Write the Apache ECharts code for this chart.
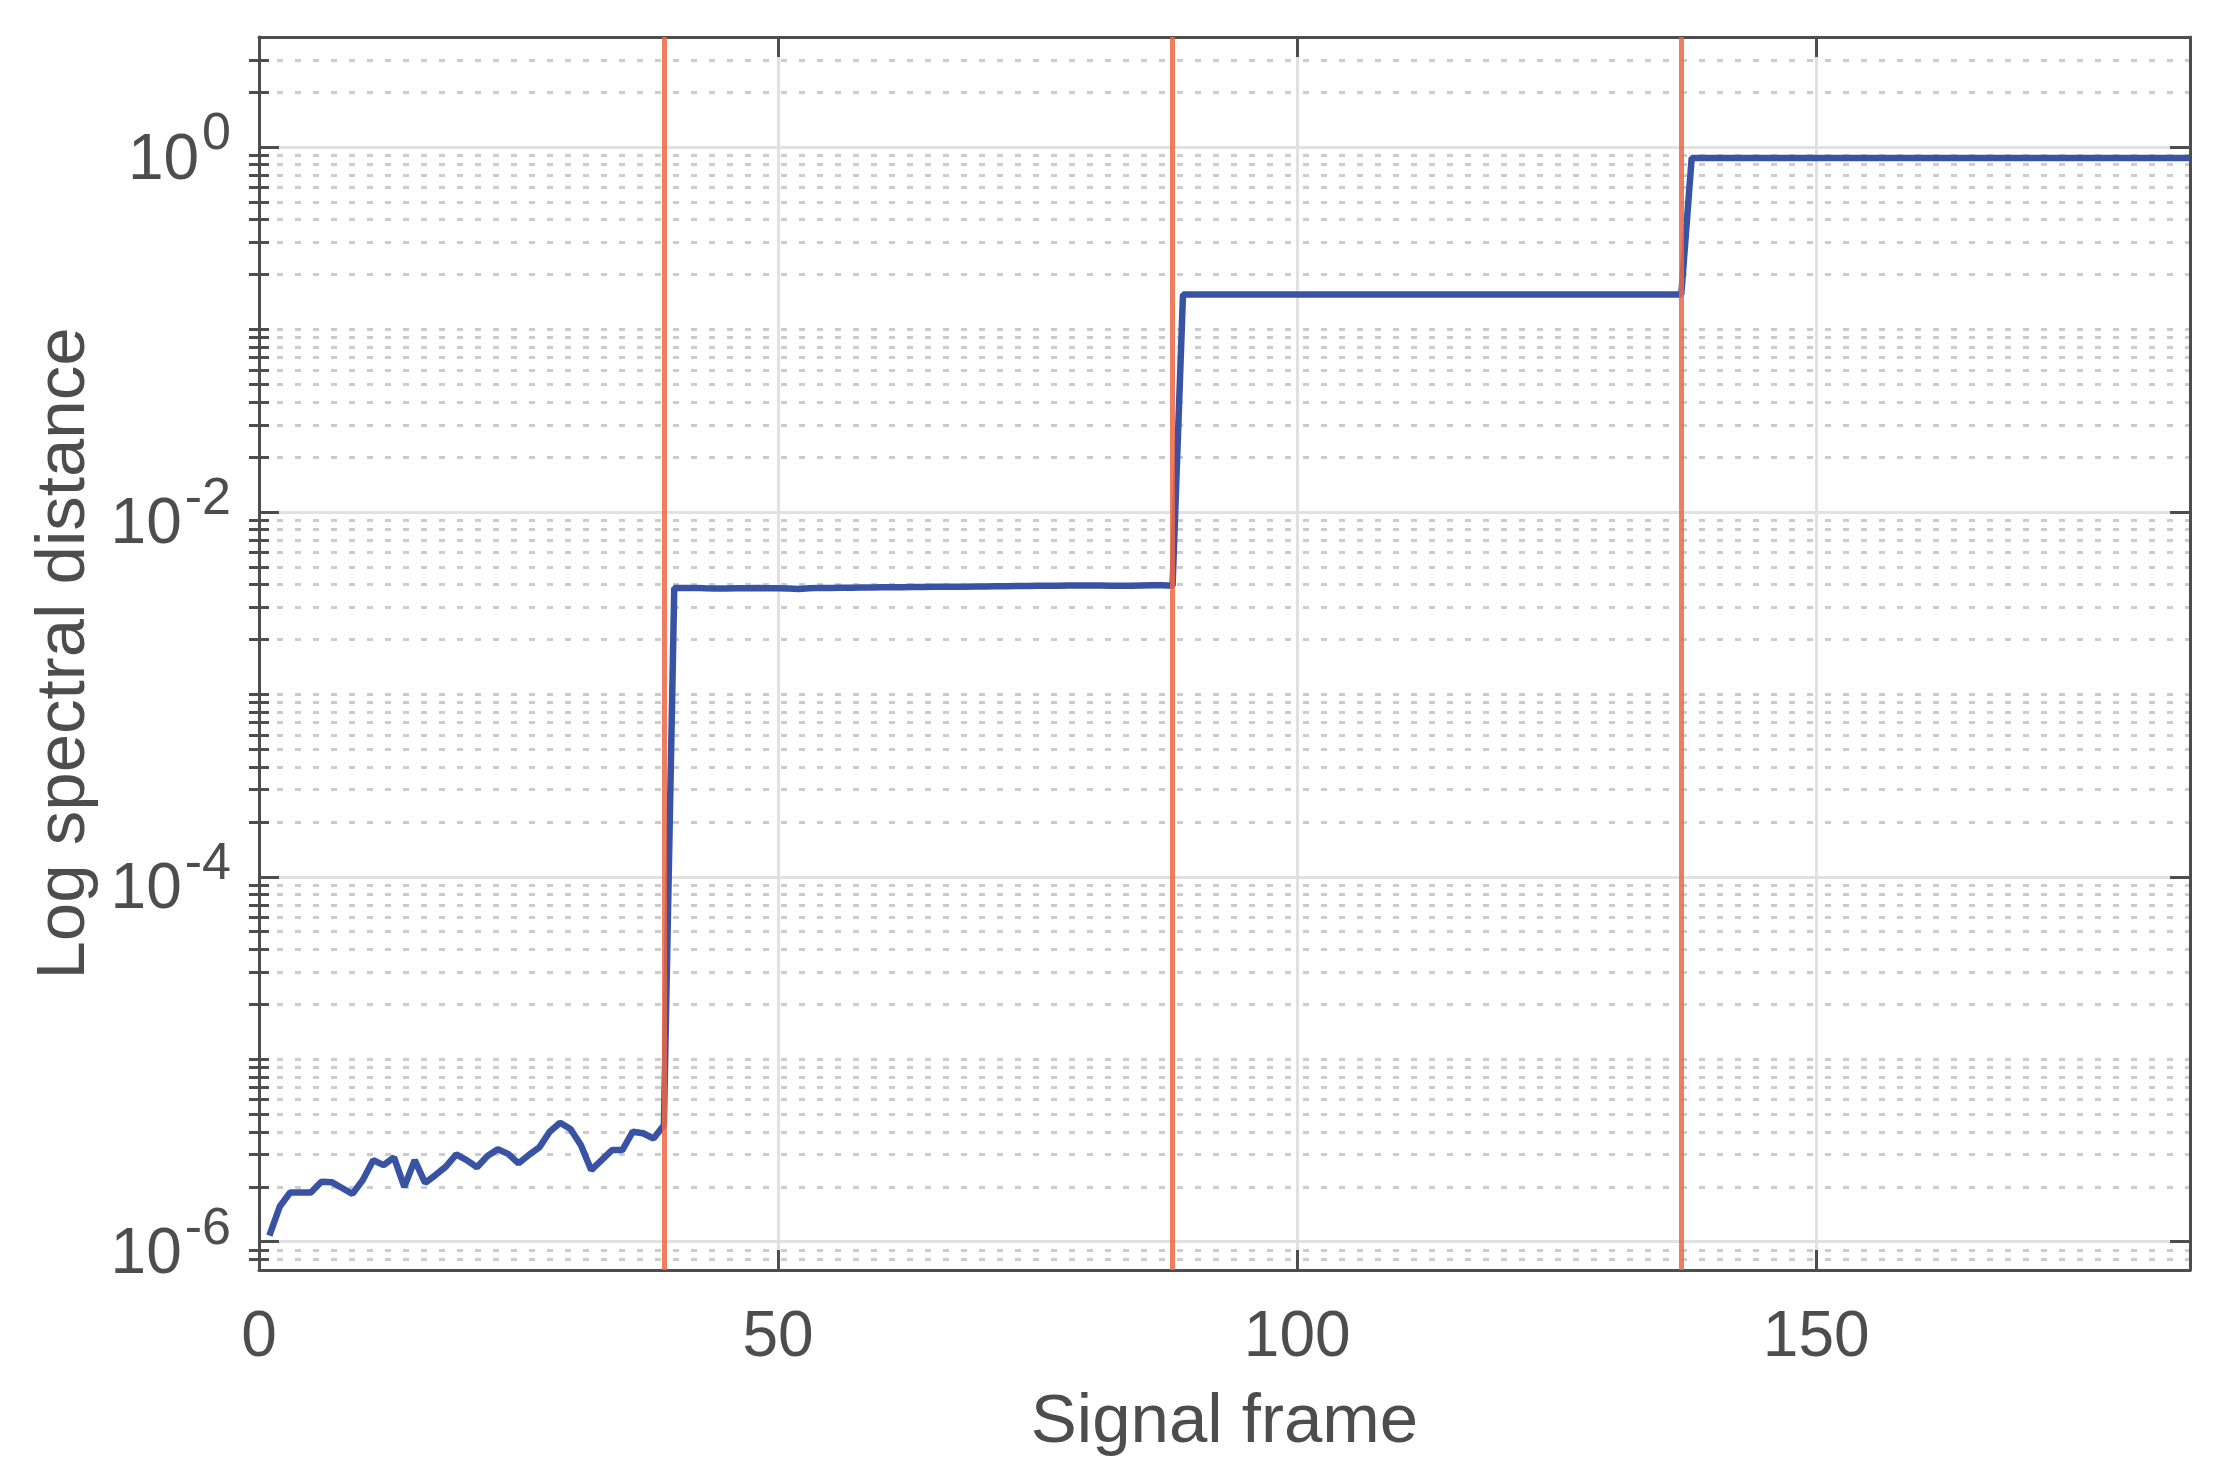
<!DOCTYPE html>
<html><head><meta charset="utf-8">
<script src="https://cdn.jsdelivr.net/npm/echarts@6/dist/echarts.min.js"></script>
<style>html,body{margin:0;padding:0;background:#fff}#c{width:2229px;height:1476px}</style>
</head><body><div id="c"></div>
<script>
// ---- data ----
const xTicks = [0, 50, 100, 150];
const yMajorTicks = [1e-6, 1e-4, 1e-2, 1];
const yMinorTicks = [
  8e-7, 9e-7,
  2e-6, 3e-6, 4e-6, 5e-6, 6e-6, 7e-6, 8e-6, 9e-6, 1e-5,
  2e-5, 3e-5, 4e-5, 5e-5, 6e-5, 7e-5, 8e-5, 9e-5,
  2e-4, 3e-4, 4e-4, 5e-4, 6e-4, 7e-4, 8e-4, 9e-4, 1e-3,
  2e-3, 3e-3, 4e-3, 5e-3, 6e-3, 7e-3, 8e-3, 9e-3,
  2e-2, 3e-2, 4e-2, 5e-2, 6e-2, 7e-2, 8e-2, 9e-2, 1e-1,
  2e-1, 3e-1, 4e-1, 5e-1, 6e-1, 7e-1, 8e-1, 9e-1,
  2, 3
];
const changeFrames = [39, 88, 137];
// frames 1..39
const lsdSegment1 = [
  1.08e-6, 1.56e-6, 1.86e-6, 1.86e-6, 1.86e-6, 2.13e-6, 2.12e-6, 1.97e-6, 1.83e-6, 2.18e-6,
  2.80e-6, 2.63e-6, 2.90e-6, 2.00e-6, 2.80e-6, 2.10e-6, 2.32e-6, 2.58e-6, 3.01e-6, 2.80e-6,
  2.56e-6, 2.95e-6, 3.21e-6, 3.03e-6, 2.69e-6, 2.99e-6, 3.29e-6, 4.01e-6, 4.49e-6, 4.15e-6,
  3.39e-6, 2.47e-6, 2.80e-6, 3.18e-6, 3.18e-6, 4.01e-6, 3.93e-6, 3.68e-6, 4.35e-6
];
// frames 40..88
const lsdSegment2 = [
  0.00382, 0.00382, 0.00383, 0.00381, 0.00380, 0.00380, 0.00381, 0.00381, 0.00382, 0.00381,
  0.00381, 0.00380, 0.00378, 0.00381, 0.00383, 0.00383, 0.00384, 0.00384, 0.00385, 0.00385,
  0.00386, 0.00386, 0.00386, 0.00387, 0.00387, 0.00388, 0.00388, 0.00389, 0.00389, 0.00390,
  0.00390, 0.00391, 0.00391, 0.00392, 0.00392, 0.00393, 0.00394, 0.00394, 0.00395, 0.00395,
  0.00395, 0.00395, 0.00394, 0.00394, 0.00394, 0.00395, 0.00396, 0.00396, 0.00393
];
// frames 89..137
const lsdSegment3 = [
  0.155, 0.155, 0.155, 0.155, 0.155, 0.155, 0.155, 0.155, 0.155, 0.155,
  0.155, 0.155, 0.155, 0.155, 0.155, 0.155, 0.155, 0.155, 0.155, 0.155,
  0.155, 0.155, 0.155, 0.155, 0.155, 0.155, 0.155, 0.155, 0.155, 0.155,
  0.155, 0.155, 0.155, 0.155, 0.155, 0.155, 0.155, 0.155, 0.155, 0.155,
  0.155, 0.155, 0.155, 0.155, 0.155, 0.155, 0.155, 0.155, 0.155
];
// frames 138..186
const lsdSegment4 = [
  0.87, 0.87, 0.87, 0.87, 0.87, 0.87, 0.87, 0.87, 0.87, 0.87,
  0.87, 0.87, 0.87, 0.87, 0.87, 0.87, 0.87, 0.87, 0.87, 0.87,
  0.87, 0.87, 0.87, 0.87, 0.87, 0.87, 0.87, 0.87, 0.87, 0.87,
  0.87, 0.87, 0.87, 0.87, 0.87, 0.87, 0.87, 0.87, 0.87, 0.87,
  0.87, 0.87, 0.87, 0.87, 0.87, 0.87, 0.87, 0.87, 0.87
];

// ---- chart ----
const lsd = lsdSegment1.concat(lsdSegment2, lsdSegment3, lsdSegment4);
const seriesData = lsd.map((v, i) => [i + 1, v]);

const axisColor = '#4d4d4d';
const fontFam = "'Liberation Sans', Arial, Helvetica, sans-serif";
const yMin = 7e-7, yMax = 4, xMin = 0, xMax = 186;
const expOf = v => String(Math.round(Math.log10(v)));

function logAxis(opts) {
  return Object.assign({
    type: 'log', logBase: 10, min: yMin, max: yMax,
    axisLine: { show: false },
    axisTick: { show: false },
    axisLabel: { show: false },
    splitLine: { show: false },
    minorTick: { show: false },
    minorSplitLine: { show: false }
  }, opts);
}

const option = {
  animation: false,
  backgroundColor: '#ffffff',
  grid: { left: 259, right: 39, top: 37, bottom: 206, containLabel: false, outerBoundsMode: 'none' },
  xAxis: [
    {
      type: 'value', min: xMin, max: xMax, interval: 50, position: 'bottom',
      name: 'Signal frame', nameLocation: 'middle', nameGap: 118,
      nameTextStyle: { fontSize: 69, color: axisColor, fontFamily: fontFam },
      axisLine: { show: true, onZero: false, lineStyle: { color: axisColor, width: 3 } },
      axisTick: { show: true, inside: true, length: 20, customValues: xTicks, lineStyle: { color: axisColor, width: 3 } },
      axisLabel: { customValues: xTicks, fontSize: 64, margin: 36, color: axisColor, fontFamily: fontFam },
      splitLine: { show: true, lineStyle: { color: '#e1e1e1', width: 3 } }
    },
    {
      type: 'value', min: xMin, max: xMax, interval: 50, position: 'top',
      axisLine: { show: true, onZero: false, lineStyle: { color: axisColor, width: 3 } },
      axisTick: { show: true, inside: true, length: 20, customValues: xTicks, lineStyle: { color: axisColor, width: 3 } },
      axisLabel: { show: false },
      splitLine: { show: false }
    }
  ],
  yAxis: [
    // major ticks, base "10" of the labels, solid major grid, axis name
    logAxis({
      position: 'left', offset: 0,
      name: 'Log spectral distance', nameLocation: 'middle', nameGap: 160,
      nameTextStyle: { fontSize: 69, color: axisColor, fontFamily: fontFam },
      axisLine: { show: true, onZero: false, lineStyle: { color: axisColor, width: 3 } },
      axisTick: { show: true, inside: true, length: 20, customValues: yMajorTicks, lineStyle: { color: axisColor, width: 3 } },
      axisLabel: {
        show: true, customValues: yMajorTicks, margin: 28,
        fontSize: 64, fontFamily: fontFam, color: axisColor,
        lineHeight: 28, verticalAlign: 'top',
        formatter: v => '10{h|' + expOf(v) + '}',
        rich: {
          h: { fontSize: 52, fontFamily: fontFam, color: 'rgba(0,0,0,0)', lineHeight: 28, padding: [0, 0, 0, 3] }
        }
      },
      splitLine: { show: true, lineStyle: { color: '#e1e1e1', width: 3 } }
    }),
    // minor ticks, dotted minor grid, exponent (superscript) of the labels
    logAxis({
      position: 'left', offset: 0,
      axisTick: { show: true, inside: true, length: 10, customValues: yMinorTicks, lineStyle: { color: axisColor, width: 3 } },
      axisLabel: {
        show: true, customValues: yMajorTicks, margin: 28,
        fontSize: 52, fontFamily: fontFam, color: axisColor,
        lineHeight: 24, verticalAlign: 'bottom',
        formatter: v => expOf(v)
      },
      splitLine: { show: true, lineStyle: { color: '#cccccc', width: 3, type: [6, 12] } }
    }),
    logAxis({
      position: 'right', offset: 0,
      axisLine: { show: true, onZero: false, lineStyle: { color: axisColor, width: 3 } },
      axisTick: { show: true, inside: true, length: 20, customValues: yMajorTicks, lineStyle: { color: axisColor, width: 3 } }
    }),
    logAxis({
      position: 'right', offset: 0,
      axisTick: { show: true, inside: true, length: 10, customValues: yMinorTicks, lineStyle: { color: axisColor, width: 3 } }
    })
  ],
  series: [
    {
      type: 'line', xAxisIndex: 0, yAxisIndex: 0,
      data: seriesData, showSymbol: false, symbol: 'none', silent: true,
      lineStyle: { color: '#3953a4', width: 6.5 },
      z: 3,
      markLine: {
        silent: true, symbol: 'none', animation: false,
        label: { show: false },
        lineStyle: { color: '#ee6644', width: 5, type: 'solid', opacity: 0.85 },
        emphasis: { disabled: true },
        data: changeFrames.map(f => ({ xAxis: f }))
      }
    }
  ]
};

const chart = echarts.init(document.getElementById('c'), null, { renderer: 'canvas' });
chart.setOption(option);
</script>
</body></html>
